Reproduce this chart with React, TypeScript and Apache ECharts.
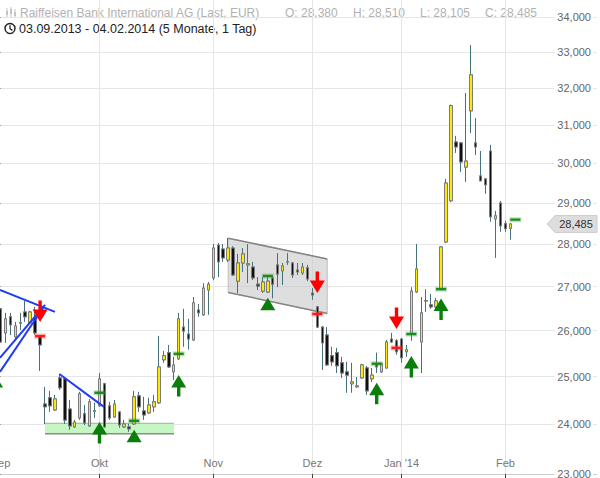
import React, { useEffect, useRef } from 'react';
import * as echarts from 'echarts';

// ---- trading calendar: [year, month, trading days] ----
const CALENDAR: [number, number, number[]][] = [
  [2013, 9, [3, 4, 5, 6, 9, 10, 11, 12, 13, 16, 17, 18, 19, 20, 23, 24, 25, 26, 27, 30]],
  [2013, 10, [1, 2, 3, 4, 7, 8, 9, 10, 11, 14, 15, 16, 17, 18, 21, 22, 23, 24, 25, 28, 29, 30, 31]],
  [2013, 11, [4, 5, 6, 7, 8, 11, 12, 13, 14, 15, 18, 19, 20, 21, 22, 25, 26, 27, 28, 29]],
  [2013, 12, [2, 3, 4, 5, 6, 9, 10, 11, 12, 13, 16, 17, 18, 19, 20, 23, 27, 30]],
  [2014, 1, [2, 3, 7, 8, 9, 10, 13, 14, 15, 16, 17, 20, 21, 22, 23, 24, 27, 28, 29, 30, 31]],
  [2014, 2, [3, 4]],
];
// empty future sessions shown to the right of the last candle
const FUTURE_SESSIONS: [number, number, number[]][] = [
  [2014, 2, [5, 6, 7, 10, 11, 12, 13, 14, 17, 18, 19, 20, 21, 24, 25, 26, 27]],
];

const OPEN = [26490, 25950, 26310, 25860, 26175, 26420, 26175, 26285, 25880, 24420,
  24550, 24295, 24970, 24950, 24315, 23945, 24130, 24215, 23965, 24270,
  24380, 24845, 24380, 24150, 24255, 23945, 23945, 24005, 24590, 24275,
  24235, 24360, 24445, 25360, 25515, 25100, 25380, 26080, 25925, 25795,
  26465, 26355, 26920, 27200, 27975, 27880, 27620, 27905, 27125, 27550,
  27505, 27455, 27055, 26895, 26875, 27200, 27505, 27365, 27575, 27550,
  27385, 27315, 27435, 26850, 26535, 26080, 25905, 25450, 25515, 25295,
  25100, 24845, 24780, 24970, 25185, 24950, 25250, 25100, 25185, 25815,
  25775, 25815, 25535, 25925, 26875, 25750, 26670, 26580, 26535, 26930,
  28050, 29055, 30555, 30530, 29905, 31380, 30530, 29680, 29605, 30320,
  28610, 29000, 28490, 28380];
const HIGH = [26510, 26400, 26400, 26195, 26400, 26670, 26445, 26535, 25880, 24780,
  24695, 24610, 25055, 24970, 24505, 24090, 24675, 24400, 24525, 24445,
  25075, 24865, 24465, 24505, 24255, 24090, 24005, 24695, 24675, 24570,
  24550, 24610, 25885, 25555, 25685, 25425, 26400, 26490, 26265, 26760,
  26600, 27080, 27105, 28000, 28025, 28000, 28145, 27950, 27765, 27905,
  28000, 27575, 27220, 27220, 27245, 27245, 27785, 27550, 27785, 27575,
  27550, 27550, 27505, 26965, 26555, 26105, 26080, 25645, 25620, 25425,
  25315, 25295, 24990, 25275, 25230, 25185, 25515, 25295, 25795, 25950,
  25815, 25840, 25685, 26985, 28000, 26760, 26940, 26830, 26740, 27950,
  29605, 31550, 30715, 30555, 31860, 33195, 31185, 30320, 29605, 30480,
  28805, 29050, 28565, 28510];
const LOW = [25730, 25730, 25905, 25795, 26015, 26195, 26150, 25905, 25120, 24005,
  24255, 24275, 24715, 24005, 23885, 23925, 24090, 23985, 23945, 24130,
  24360, 23925, 24090, 24130, 23925, 23925, 23845, 23985, 24255, 24090,
  24215, 24255, 24420, 25295, 25185, 24925, 25360, 25645, 25580, 25775,
  26310, 26330, 26355, 27150, 27220, 27575, 27575, 27245, 26850, 27340,
  27080, 27150, 26920, 26850, 26850, 26730, 26985, 27035, 27505, 27200,
  27270, 27270, 27125, 26695, 26060, 25140, 25230, 25230, 25075, 24970,
  24655, 24655, 24760, 24950, 24610, 24885, 25075, 25075, 25165, 25730,
  25470, 25295, 25425, 25775, 26850, 25075, 26420, 26490, 26465, 26920,
  28025, 29025, 30270, 29780, 29530, 30790, 30215, 29555, 29230, 28540,
  27670, 28295, 28295, 28105];
const CLOSE = [25750, 26265, 26130, 26105, 26170, 26310, 26420, 25950, 25685, 24360,
  24380, 24525, 24760, 24085, 23965, 24045, 24635, 24025, 24465, 24280,
  24950, 23945, 24130, 24420, 23985, 24005, 23905, 24570, 24360, 24190,
  24400, 24465, 25205, 25450, 25205, 25250, 26265, 25990, 25815, 26625,
  26400, 26965, 27055, 27905, 27575, 27670, 27905, 27270, 27550, 27765,
  27530, 27200, 27010, 27105, 27125, 27055, 27290, 27480, 27580, 27270,
  27340, 27455, 27175, 26805, 26080, 25730, 25250, 25315, 25230, 25075,
  25030, 24885, 24800, 25250, 24695, 25030, 25205, 25275, 25750, 25750,
  25535, 25405, 25580, 26895, 27410, 26400, 26675, 26535, 26670, 27930,
  29500, 31520, 30425, 30035, 30060, 32360, 30425, 29555, 29455, 28660,
  28685, 28440, 28370, 28485];

const PRICE_TICKS = [23000, 24000, 25000, 26000, 27000, 28000, 29000, 30000, 31000, 32000, 33000, 34000];
const PRICE_MIN = 23000;
const PRICE_MAX = 34500;

const MONTH_NAMES = ['Jan', 'Feb', 'Mär', 'Apr', 'Mai', 'Jun', 'Jul', 'Aug', 'Sep', 'Okt', 'Nov', 'Dez'];

const TITLE = 'Raiffeisen Bank International AG (Last, EUR)';
const RANGE_TEXT = '03.09.2013 - 04.02.2014 (5 Monate, 1 Tag)';

// drawing tool annotations, in (session index, price)
const TREND_LINES: [number, number, number, number][] = [
  [-0.1, 26920, 11.0, 26420],
  [-0.1, 25405, 9.0, 26580],
  [-0.1, 25100, 8.6, 26510],
  [11.9, 25055, 20.9, 24360],
];
const SUPPORT_ZONE = [9.0, 35.05, 24020, 23805]; // from, to, top, bottom
const CHANNEL = [46.0, 66.0, 28140, 27645, 26385, 26865]; // from, to, topStart, topEnd, bottomEnd, bottomStart
// [session, tip price, direction (1 buy / -1 sell), with shaft]
const SIGNAL_ARROWS: number[][] = [
  [-1, 25030, 1, 1],
  [8, 26195, -1, 1],
  [20, 24045, 1, 1],
  [27, 23885, 1, 0],
  [36, 25030, 1, 1],
  [54, 26740, 1, 0],
  [64, 26850, -1, 1],
  [76, 24865, 1, 1],
  [80, 26035, -1, 1],
  [83, 25445, 1, 1],
  [89, 26725, 1, 1],
];
// [session, price, kind (1 green / -1 red)]
const SIGNAL_LEVELS: number[][] = [
  [8, 25880, -1], [20, 24655, 1], [27, 24070, 1], [36, 25490, 1], [54, 27245, 1],
  [64, 26375, -1], [76, 25275, 1], [80, 25620, -1], [83, 25925, 1], [89, 26940, 1], [104, 28590, 1],
];

const FONT = '"Liberation Sans", Arial, Helvetica, sans-serif';
const pad = (n: number) => (n < 10 ? '0' + n : '' + n);
const toDates = (cal: [number, number, number[]][]) =>
  cal.flatMap(([y, m, days]) => days.map((d) => `${y}-${pad(m)}-${pad(d)}`));
const DATES = [...toDates(CALENDAR), ...toDates(FUTURE_SESSIONS)];
const fmt = (n: number) => String(n).replace(/\B(?=(\d{3})+(?!\d))/g, ',');
const ln = Math.log;
const LAST = CLOSE.length - 1;

const monthKey = (s: string) => s.slice(0, 7);
const isMonthStart = (i: number) => i === 0 || monthKey(DATES[i]) !== monthKey(DATES[i - 1]);
const monthLabel = (s: string) => {
  const y = +s.slice(0, 4);
  const m = +s.slice(5, 7);
  const name = MONTH_NAMES[m - 1];
  return m === 1 ? `${name} '${String(y).slice(2)}` : name;
};

function buildOption(): any {
  const wickData = OPEN.map((o, i) => [ln(o), ln(CLOSE[i]), ln(LOW[i]), ln(HIGH[i])]);
  const bodyData = OPEN.map((o, i) => {
    const c = CLOSE[i];
    return [ln(o), ln(c), ln(Math.min(o, c)), ln(Math.max(o, c))];
  });
  const tickLn = PRICE_TICKS.map(ln);

  const lineSeries = TREND_LINES.map((t) => ({
    type: 'line',
    xAxisIndex: 1,
    yAxisIndex: 0,
    data: [[t[0], ln(t[1])], [t[2], ln(t[3])]],
    symbol: 'none',
    silent: true,
    z: 4,
    lineStyle: { color: '#1f3cf5', width: 2 },
  }));

  return {
    animation: false,
    backgroundColor: '#ffffff',
    grid: { left: -2, right: 3, top: 0, bottom: 4, containLabel: false, outerBoundsMode: 'none' },
    xAxis: [
      {
        type: 'category',
        data: DATES,
        boundaryGap: true,
        position: 'bottom',
        axisLine: { show: true, lineStyle: { color: '#cfcfcf', width: 1 } },
        axisTick: {
          show: true,
          alignWithLabel: true,
          length: 4,
          interval: (i: number) => i > 0 && isMonthStart(i),
          lineStyle: { color: '#444' },
        },
        axisLabel: {
          show: true,
          inside: true,
          margin: 6,
          interval: (i: number) => isMonthStart(i),
          formatter: (v: string) => monthLabel(v),
          color: '#777',
          fontSize: 11,
          fontFamily: FONT,
        },
        splitLine: {
          show: true,
          alignWithLabel: true,
          interval: (i: number) => i > 0 && isMonthStart(i),
          lineStyle: { color: '#e6e6e6', width: 1 },
        },
      },
      { type: 'value', min: -0.5, max: DATES.length - 0.5, show: false },
    ],
    yAxis: {
      type: 'value',
      position: 'right',
      min: ln(PRICE_MIN),
      max: ln(PRICE_MAX),
      axisLine: { show: false },
      axisTick: { show: true, inside: true, length: 4, customValues: tickLn, lineStyle: { color: '#555' } },
      axisLabel: {
        show: true,
        inside: true,
        margin: 4,
        customValues: tickLn,
        formatter: (v: number) => fmt(Math.round(Math.exp(v))),
        color: '#666',
        fontSize: 11,
        fontFamily: FONT,
        backgroundColor: '#ffffff',
        padding: [1, 2, 1, 3],
      },
      splitLine: { show: true, lineStyle: { color: '#e6e6e6', width: 1 } },
    },
    series: [
      {
        type: 'custom',
        name: 'zone',
        xAxisIndex: 1,
        yAxisIndex: 0,
        z: 1,
        silent: true,
        data: [[SUPPORT_ZONE[0], SUPPORT_ZONE[1], ln(SUPPORT_ZONE[2]), ln(SUPPORT_ZONE[3])]],
        encode: { x: [0, 1], y: [2, 3] },
        renderItem: (params: any, api: any) => {
          const a = api.coord([api.value(0), api.value(2)]);
          const b = api.coord([api.value(1), api.value(3)]);
          return {
            type: 'group',
            children: [
              { type: 'rect', shape: { x: a[0], y: a[1], width: b[0] - a[0], height: b[1] - a[1] }, style: { fill: '#c4f7c4' } },
              { type: 'line', shape: { x1: a[0], y1: a[1], x2: b[0], y2: a[1] }, style: { stroke: '#a8a8a8', lineWidth: 1 } },
              { type: 'line', shape: { x1: a[0], y1: b[1], x2: b[0], y2: b[1] }, style: { stroke: '#8a8a8a', lineWidth: 1.6 } },
            ],
          };
        },
      },
      {
        type: 'custom',
        name: 'channel',
        xAxisIndex: 1,
        yAxisIndex: 0,
        z: 1,
        silent: true,
        data: [[CHANNEL[0], CHANNEL[1], ln(CHANNEL[2]), ln(CHANNEL[3]), ln(CHANNEL[4]), ln(CHANNEL[5])]],
        encode: { x: [0, 1], y: [2, 3, 4, 5] },
        renderItem: (params: any, api: any) => {
          const tl = api.coord([api.value(0), api.value(2)]);
          const tr = api.coord([api.value(1), api.value(3)]);
          const br = api.coord([api.value(1), api.value(4)]);
          const bl = api.coord([api.value(0), api.value(5)]);
          return {
            type: 'group',
            children: [
              { type: 'polygon', shape: { points: [tl, tr, br, bl] }, style: { fill: 'rgba(200,200,200,0.6)', stroke: '#bdbdbd', lineWidth: 1 } },
              { type: 'line', shape: { x1: tl[0], y1: tl[1], x2: tr[0], y2: tr[1] }, style: { stroke: '#858585', lineWidth: 1.5 } },
              { type: 'line', shape: { x1: bl[0], y1: bl[1], x2: br[0], y2: br[1] }, style: { stroke: '#858585', lineWidth: 1.5 } },
            ],
          };
        },
      },
      {
        type: 'candlestick',
        name: 'wicks',
        xAxisIndex: 0,
        yAxisIndex: 0,
        barWidth: 3,
        silent: true,
        z: 2,
        data: wickData,
        itemStyle: {
          color: '#46727c',
          color0: '#46727c',
          borderColor: '#46727c',
          borderColor0: '#46727c',
          borderColorDoji: '#46727c',
          borderWidth: 1,
        },
      },
      {
        type: 'candlestick',
        name: 'RBI',
        xAxisIndex: 0,
        yAxisIndex: 0,
        barWidth: 3,
        silent: true,
        z: 3,
        data: bodyData,
        itemStyle: {
          color: '#ffe900',
          color0: '#111111',
          borderColor: '#7c7c7c',
          borderColor0: '#7c7c7c',
          borderColorDoji: '#7c7c7c',
          borderWidth: 1,
        },
      },
      ...lineSeries,
      {
        type: 'custom',
        name: 'levels',
        xAxisIndex: 1,
        yAxisIndex: 0,
        z: 5,
        silent: true,
        data: SIGNAL_LEVELS.map((d) => [d[0], ln(d[1]), d[2]]),
        encode: { x: 0, y: 1 },
        renderItem: (params: any, api: any) => {
          const p = api.coord([api.value(0), api.value(1)]);
          const green = api.value(2) > 0;
          return {
            type: 'group',
            children: [
              { type: 'rect', shape: { x: p[0] - 6, y: p[1] - 2.5, width: 12, height: 5 }, style: { fill: green ? 'rgba(60,170,60,0.35)' : 'rgba(255,60,60,0.35)' } },
              { type: 'rect', shape: { x: p[0] - 5, y: p[1] - 1.2, width: 10, height: 2.4 }, style: { fill: green ? '#1d8a1d' : '#ff1a1a' } },
            ],
          };
        },
      },
      {
        type: 'custom',
        name: 'signals',
        xAxisIndex: 1,
        yAxisIndex: 0,
        z: 6,
        silent: true,
        data: SIGNAL_ARROWS.map((d) => [d[0], ln(d[1]), d[2], d[3]]),
        encode: { x: 0, y: 1 },
        renderItem: (params: any, api: any) => {
          const p = api.coord([api.value(0), api.value(1)]);
          const up = api.value(2) > 0;
          const shaft = api.value(3) ? 9 : 0;
          const s = up ? 1 : -1;
          const hw = 7.5;
          const hh = 12.5;
          const sw = 1.7;
          const x = p[0];
          const y = p[1];
          const pts: number[][] = [[x, y], [x + hw, y + s * hh]];
          if (shaft) {
            pts.push([x + sw, y + s * hh], [x + sw, y + s * (hh + shaft)], [x - sw, y + s * (hh + shaft)], [x - sw, y + s * hh]);
          }
          pts.push([x - hw, y + s * hh]);
          return { type: 'polygon', shape: { points: pts }, style: { fill: up ? '#0b7d0b' : '#ff0000' } };
        },
      },
      {
        type: 'custom',
        name: 'lastPrice',
        xAxisIndex: 1,
        yAxisIndex: 0,
        z: 7,
        silent: true,
        data: [[LAST, ln(CLOSE[LAST])]],
        encode: { x: 0, y: 1 },
        renderItem: (params: any, api: any) => {
          const y = api.coord([api.value(0), api.value(1)])[1];
          const cs = params.coordSys;
          const right = cs.x + cs.width;
          return {
            type: 'group',
            children: [
              {
                type: 'polygon',
                shape: { points: [[right - 50, y], [right - 42, y - 8.5], [right, y - 8.5], [right, y + 8.5], [right - 42, y + 8.5]] },
                style: { fill: '#dddddd', stroke: '#cccccc', lineWidth: 1 },
              },
              {
                type: 'text',
                x: right - 21,
                y: y + 0.5,
                style: {
                  text: fmt(Math.round(Math.exp(api.value(1)))),
                  fill: '#333',
                  font: `11px ${FONT}`,
                  align: 'center',
                  verticalAlign: 'middle',
                },
              },
            ],
          };
        },
      },
    ],
    graphic: [
      // bar-chart icon
      { type: 'line', shape: { x1: 7, y1: 8, x2: 7, y2: 18 }, style: { stroke: '#c4c4c4', lineWidth: 1 } },
      { type: 'rect', shape: { x: 6, y: 11, width: 2, height: 4 }, style: { fill: '#c4c4c4' } },
      { type: 'line', shape: { x1: 11, y1: 7, x2: 11, y2: 17 }, style: { stroke: '#c4c4c4', lineWidth: 1 } },
      { type: 'rect', shape: { x: 10, y: 9, width: 2, height: 5 }, style: { fill: '#c4c4c4' } },
      { type: 'line', shape: { x1: 15, y1: 9, x2: 15, y2: 18 }, style: { stroke: '#c4c4c4', lineWidth: 1 } },
      { type: 'rect', shape: { x: 14, y: 12, width: 2, height: 4 }, style: { fill: '#c4c4c4' } },
      { type: 'text', x: 20, y: 13, style: { text: TITLE, fill: '#b2b2b2', font: `12px ${FONT}`, verticalAlign: 'middle' } },
      { type: 'text', x: 285, y: 13, style: { text: `O: ${fmt(OPEN[LAST])}`, fill: '#b2b2b2', font: `12px ${FONT}`, verticalAlign: 'middle' } },
      { type: 'text', x: 353, y: 13, style: { text: `H: ${fmt(HIGH[LAST])}`, fill: '#b2b2b2', font: `12px ${FONT}`, verticalAlign: 'middle' } },
      { type: 'text', x: 420, y: 13, style: { text: `L: ${fmt(LOW[LAST])}`, fill: '#b2b2b2', font: `12px ${FONT}`, verticalAlign: 'middle' } },
      { type: 'text', x: 485, y: 13, style: { text: `C: ${fmt(CLOSE[LAST])}`, fill: '#b2b2b2', font: `12px ${FONT}`, verticalAlign: 'middle' } },
      // clock icon
      { type: 'circle', shape: { cx: 10, cy: 28.5, r: 5 }, style: { fill: '#ffffff', stroke: '#222', lineWidth: 1.4 } },
      { type: 'polyline', shape: { points: [[10, 25.3], [10, 28.7], [12.4, 30.4]] }, style: { stroke: '#222', lineWidth: 1.3, fill: null } },
      { type: 'text', x: 19, y: 28.5, style: { text: RANGE_TEXT, fill: '#222', font: `12.5px ${FONT}`, verticalAlign: 'middle' } },
    ],
  };
}

export default function App() {
  const ref = useRef<HTMLDivElement>(null);
  useEffect(() => {
    if (!ref.current) return;
    const chart = echarts.init(ref.current, null, { renderer: 'svg' });
    chart.setOption(buildOption());
    return () => chart.dispose();
  }, []);
  return <div ref={ref} style={{ position: 'absolute', left: 0, top: 0, width: 600, height: 478 }} />;
}
